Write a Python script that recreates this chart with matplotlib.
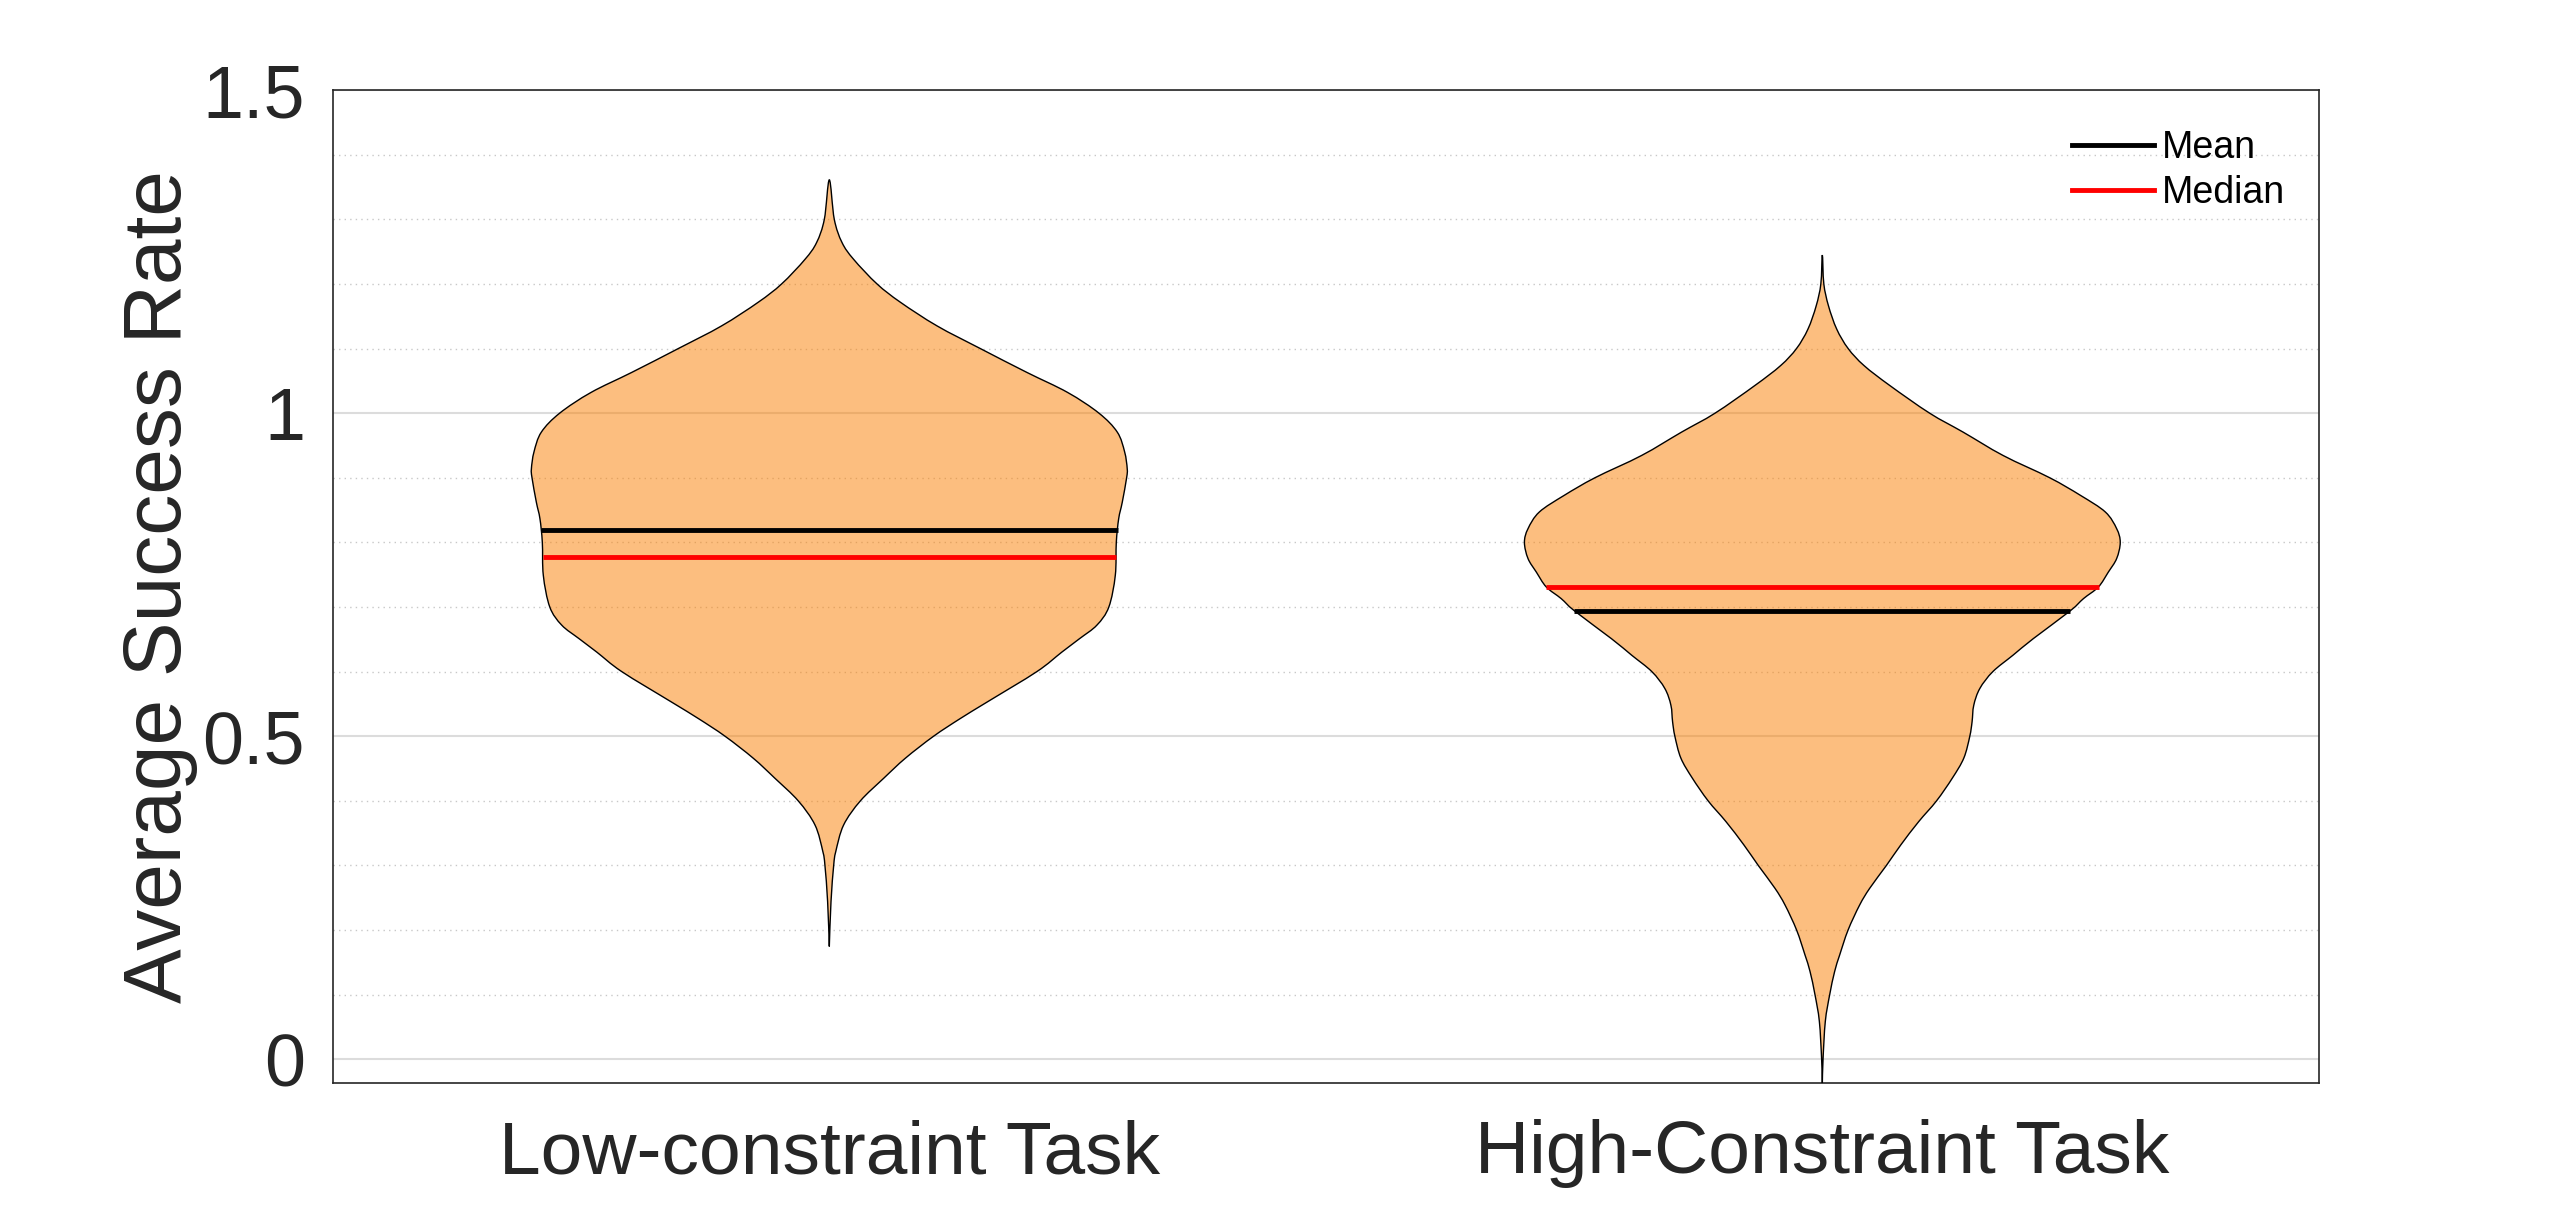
import numpy as np
import matplotlib.pyplot as plt
from matplotlib.lines import Line2D
from matplotlib.path import Path
from matplotlib.patches import PathPatch

plt.rcParams['font.family'] = ['Liberation Sans', 'DejaVu Sans']

# categories and summary values
tasks = ['Low-constraint Task', 'High-Constraint Task']
means = [0.8196, 0.694]
medians = [0.7774, 0.7315]

# violin outlines: y value and half-width (bottom to top)
low_y = [0.1747, 0.244, 0.30, 0.3215, 0.3626, 0.40, 0.435, 0.466, 0.50, 0.5275,
         0.553, 0.60, 0.630, 0.651, 0.672, 0.70, 0.749, 0.80, 0.8366, 0.862, 0.90,
         0.914, 0.940, 0.9706, 1.0, 1.032, 1.063, 1.10, 1.135, 1.1716, 1.20, 1.238,
         1.264, 1.30, 1.361]
low_w = [0.0, 0.0017, 0.0044, 0.0065, 0.0144, 0.0313, 0.0548, 0.0766, 0.105, 0.132,
         0.159, 0.209, 0.234, 0.252, 0.2695, 0.2815, 0.288, 0.289, 0.2914, 0.295, 0.2994,
         0.300, 0.2974, 0.290, 0.2715, 0.240, 0.199, 0.152, 0.1085, 0.0716, 0.048, 0.0245,
         0.0128, 0.005, 0.0]

high_y = [-0.0366, 0.0, 0.0587, 0.10, 0.136, 0.1617, 0.20, 0.2389, 0.2647, 0.30,
          0.3318, 0.3678, 0.40, 0.4354, 0.4663, 0.50, 0.5224, 0.548, 0.5739, 0.60,
          0.6254, 0.651, 0.694, 0.713, 0.731, 0.754, 0.775, 0.80, 0.8212, 0.847,
          0.8727, 0.90, 0.9345, 0.9706, 1.0, 1.0427, 1.0736, 1.10, 1.130, 1.166,
          1.20, 1.2447]
high_w = [0.0, 0.0007, 0.003, 0.0074, 0.0124, 0.0175, 0.0259, 0.0376, 0.0477, 0.0645,
          0.079, 0.097, 0.115, 0.131, 0.1425, 0.1485, 0.1508, 0.1525, 0.1586, 0.1717,
          0.192, 0.2124, 0.2496, 0.263, 0.278, 0.288, 0.2964, 0.300, 0.2964, 0.285,
          0.260, 0.229, 0.182, 0.1418, 0.108, 0.068, 0.042, 0.026, 0.0145, 0.0062,
          0.0015, 0.0]

profiles = [(low_y, low_w), (high_y, high_w)]


def smooth_path(xs, ys):
    # catmull-rom through the outline points, drawn as cubic bezier pieces
    pts = np.column_stack([xs, ys])
    ext = np.vstack([pts[0], pts, pts[-1]])
    verts = [pts[0]]
    codes = [Path.MOVETO]
    for i in range(1, len(ext) - 2):
        p0, p1, p2, p3 = ext[i - 1], ext[i], ext[i + 1], ext[i + 2]
        verts += [p1 + (p2 - p0) / 6, p2 - (p3 - p1) / 6, p2]
        codes += [Path.CURVE4] * 3
    verts.append(pts[0])
    codes.append(Path.CLOSEPOLY)
    return Path(verts, codes)


fig = plt.figure(figsize=(25.6, 12.2), dpi=100)
ax = fig.add_axes([0.130, 0.1123, 0.7758, 0.8139])

for i, (ys, ws) in enumerate(profiles):
    pos = i + 1
    ys = np.array(ys)
    ws = np.array(ws)
    xs_out = np.concatenate([pos - ws, (pos + ws)[::-1][1:]])
    ys_out = np.concatenate([ys, ys[::-1][1:]])
    path = smooth_path(xs_out, ys_out)
    ax.add_patch(PathPatch(path, facecolor=(251/255, 127/255, 0), alpha=0.5,
                           edgecolor='none', zorder=2))
    ax.add_patch(PathPatch(path, facecolor='none', edgecolor='black', lw=1, zorder=3))
    # mean and median lines span the violin width at that height
    for val, col in [(means[i], 'black'), (medians[i], 'red')]:
        hw = np.interp(val, ys, ws)
        ax.plot([pos - hw, pos + hw], [val, val], color=col, lw=3.5, zorder=4,
                solid_capstyle='butt')

ax.set_xlim(0.5, 2.5)
ax.set_ylim(-0.0366, 1.5)
ax.set_xticks([1, 2])
ax.set_xticklabels(tasks)
ax.set_yticks([0, 0.5, 1, 1.5])
ax.set_yticklabels(['0', '0.5', '1', '1.5'])
ax.set_yticks(np.arange(0, 1.51, 0.1), minor=True)
ax.tick_params(axis='both', which='both', length=0, colors='#262626')
ax.tick_params(axis='x', labelsize=54, pad=26)
ax.tick_params(axis='y', labelsize=53, pad=20)
ax.set_ylabel('Average Success Rate', fontsize=59, color='#262626', labelpad=3)

ax.grid(True, axis='y', which='major', color='#dcdcdc', lw=1.5, zorder=0)
ax.grid(True, axis='y', which='minor', color='#c8c8c8', lw=1.0, ls=(0, (1, 3)), zorder=0)
ax.set_axisbelow(True)
for s in ax.spines.values():
    s.set_color('#262626')
    s.set_linewidth(1.2)

handles = [Line2D([], [], color='black', lw=3.5), Line2D([], [], color='red', lw=3.5)]
ax.legend(handles, ['Mean', 'Median'], loc='upper right', frameon=False, fontsize=27,
          handlelength=2.2, handletextpad=0.2, labelspacing=0.25,
          bbox_to_anchor=(1.0, 0.994))

fig.savefig('out.png', dpi=100)
